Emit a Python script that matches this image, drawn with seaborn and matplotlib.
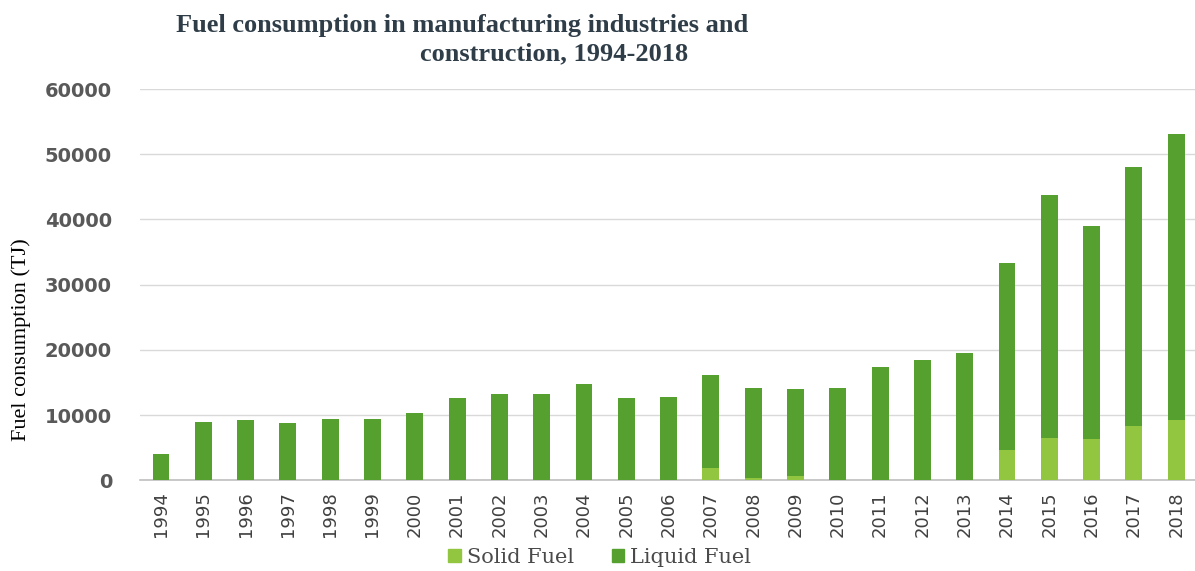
import matplotlib
matplotlib.use("Agg")
import matplotlib.pyplot as plt
import seaborn as sns
import pandas as pd
from matplotlib.patches import Patch

# Data (TJ)
years = [str(y) for y in range(1994, 2019)]
solid_fuel = [0, 0, 0, 0, 0, 0, 0, 0, 0, 0, 0, 0, 0,
              1800, 300, 600, 0, 0, 0, 0,
              4600, 6400, 6300, 8300, 9200]
liquid_fuel = [4000, 8900, 9200, 8700, 9350, 9350, 10300, 12600, 13300, 13300,
               14700, 12600, 12700, 14300, 13800, 13350, 14100, 17300, 18400,
               19500, 28700, 37300, 32650, 39700, 43850]

df = pd.DataFrame({"year": years, "solid": solid_fuel, "liquid": liquid_fuel})
df["total"] = df["solid"] + df["liquid"]

liquid_color = "#55a02e"
solid_color = "#92c640"
text_gray = "#595959"

sns.set_style("white")
fig = plt.figure(figsize=(11.95, 5.71), dpi=100)
ax = fig.add_axes([0.117, 0.159, 0.885, 0.685])

# stacked bars: total drawn in liquid colour, solid part on top from the base
sns.barplot(data=df, x="year", y="total", color=liquid_color, width=0.4,
            saturation=1, linewidth=0, ax=ax, zorder=3)
sns.barplot(data=df, x="year", y="solid", color=solid_color, width=0.4,
            saturation=1, linewidth=0, ax=ax, zorder=4)

ax.set_ylim(0, 60000)
ax.set_xlim(-0.5, 24.5)
ax.set_yticks(range(0, 60001, 10000))
ax.grid(axis="y", color="#d9d9d9", linewidth=1, zorder=0)
ax.set_axisbelow(True)
for side in ["top", "right", "left"]:
    ax.spines[side].set_visible(False)
ax.spines["bottom"].set_color("#bfbfbf")
ax.spines["bottom"].set_linewidth(1.2)

ax.tick_params(axis="y", length=0, pad=20, labelsize=14, labelcolor=text_gray)
for lab in ax.get_yticklabels():
    lab.set_fontweight("bold")
ax.tick_params(axis="x", length=0, pad=8, labelsize=13, labelcolor="#404040",
               rotation=90)
ax.set_xlabel("")
ax.set_ylabel("")

fig.text(0.018, 0.405, "Fuel consumption (TJ)", rotation=90, ha="center",
         va="center", fontsize=16, family="Liberation Serif", color="black")

fig.text(0.387, 0.955, "Fuel consumption in manufacturing industries and",
         ha="center", va="center", fontsize=19, fontweight="bold",
         family="Liberation Serif", color="#2f3d48")
fig.text(0.464, 0.905, "construction, 1994-2018",
         ha="center", va="center", fontsize=19, fontweight="bold",
         family="Liberation Serif", color="#2f3d48")

handles = [Patch(color=solid_color, label="Solid Fuel"),
           Patch(color=liquid_color, label="Liquid Fuel")]
leg = fig.legend(handles=handles, loc="center", bbox_to_anchor=(0.502, 0.024),
                 ncol=2, frameon=False, handlelength=0.6, handleheight=0.6,
                 handletextpad=0.3, columnspacing=1.8,
                 prop={"family": "DejaVu Serif", "size": 15})
for t in leg.get_texts():
    t.set_color("#4a4a4a")

fig.savefig("out.png", dpi=100)
